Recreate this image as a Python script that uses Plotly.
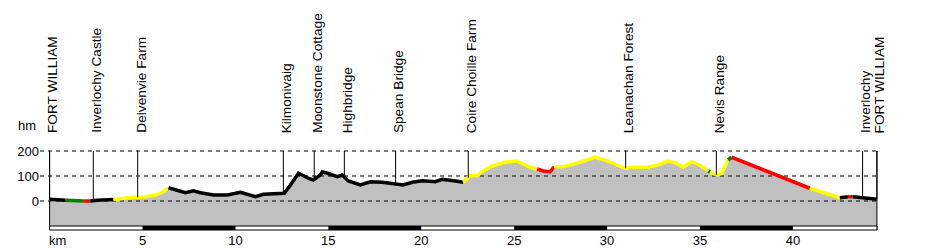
import numpy as np
import plotly.graph_objects as go

# ---------------- data ----------------
km = [0.00, 0.86, 1.83, 2.20, 2.58, 3.44, 4.25, 5.16, 5.70, 6.13,
      6.40, 6.77, 7.31, 7.74, 8.12, 8.82, 9.57, 10.27, 10.65, 11.08,
      11.51, 12.42, 12.63, 12.96, 13.39, 13.92, 14.19, 14.57, 14.68, 14.95,
      15.48, 15.75, 16.08, 16.72, 17.26, 17.90, 18.60, 19.03, 19.52, 20.05,
      20.75, 21.13, 21.83, 22.26, 22.63, 23.01, 23.33, 23.87, 24.52, 25.16,
      25.43, 25.86, 26.24, 26.56, 26.94, 27.15, 27.63, 28.39, 29.09, 29.35,
      29.89, 30.43, 30.97, 31.51, 32.20, 32.74, 33.28, 33.66, 34.09, 34.57,
      34.89, 35.27, 35.45, 35.54, 35.91, 36.18, 36.51, 36.70, 38.76, 40.91,
      42.53, 42.96, 43.23, 43.87, 44.52]
elev = [7, 3, 0, 0, 3, 6, 13, 17, 24, 37,
        53, 44, 33, 41, 33, 24, 24, 35, 28, 17,
        27, 31, 31, 64, 111, 91, 84, 104, 117, 111,
        97, 104, 80, 64, 77, 75, 67, 64, 75, 81,
        77, 87, 80, 75, 101, 101, 120, 141, 155, 160,
        151, 135, 128, 120, 117, 137, 137, 151, 168, 175,
        164, 147, 131, 135, 135, 144, 160, 153, 135, 157,
        147, 131, 120, 115, 104, 111, 164, 175, 116, 51,
        13, 17, 17, 11, 7]
# colour of the segment starting at each point (one per segment)
seg_colors = (["black", "green", "red", "black", "black"]
              + ["yellow"] * 5
              + ["black"] * 33
              + ["yellow"] * 9
              + ["red"] * 3
              + ["yellow"] * 17
              + ["green"]
              + ["yellow"] * 3
              + ["green"]
              + ["red"] * 2
              + ["yellow"]
              + ["black", "red", "black", "black"])

waypoints = ["FORT WILLIAM", "Inverlochy Castle", "Delvenvie Farm", "Kilmonivaig",
             "Moonstone Cottage", "Highbridge", "Spean Bridge", "Coire Choille Farm",
             "Leanachan Forest", "Nevis Range", "Inverlochy", "FORT WILLIAM"]
waypoint_km = [0.0, 2.35, 4.74, 12.58, 14.24, 15.86, 18.62, 22.53,
               31.00, 35.88, 43.75, 44.52]

x_ticks = [5, 10, 15, 20, 25, 30, 35, 40]
y_ticks = [0, 100, 200]
strip_edges = [0, 5, 10, 15, 20, 25, 30, 35, 40, 44.52]

colmap = {"black": "#000000", "green": "#008000", "red": "#FF0000", "yellow": "#FFFF00"}

km_a = np.array(km)
el_a = np.array(elev)
base = -100

W, H = 927, 250
L, R, T, B = 40, 47, 150, 19
pw, ph = W - L - R, H - T - B
XR = [-0.5166, 44.686]
FONT = "Liberation Sans, Arial"

fig = go.Figure()
# gray fill down to the base
fig.add_trace(go.Scatter(x=km, y=[base] * len(km), mode="lines",
                         line=dict(width=0, color="#C0C0C0"), showlegend=False, hoverinfo="skip"))
fig.add_trace(go.Scatter(x=km, y=elev, mode="lines", fill="tonexty",
                         fillcolor="#C0C0C0", line=dict(width=0, color="#C0C0C0"),
                         showlegend=False, hoverinfo="skip"))
# dashed level lines
for v in y_ticks:
    fig.add_trace(go.Scatter(x=[XR[0], 44.63], y=[v, v], mode="lines",
                             line=dict(color="black", width=1, dash="4px,4px"),
                             showlegend=False, hoverinfo="skip"))

# coloured profile line
i = 0
n = len(seg_colors)
while i < n:
    j = i
    while j + 1 < n and seg_colors[j + 1] == seg_colors[i]:
        j += 1
    fig.add_trace(go.Scatter(x=km[i:j + 2], y=elev[i:j + 2], mode="lines",
                             line=dict(color=colmap[seg_colors[i]], width=3.5),
                             showlegend=False, hoverinfo="skip"))
    i = j + 1

shapes = []
for k in waypoint_km:
    e = float(np.interp(k, km_a, el_a))
    shapes.append(dict(type="line", xref="x", yref="y", x0=k, x1=k, y0=e, y1=200,
                       line=dict(color="black", width=1)))
for k in (km[0], km[-1]):
    shapes.append(dict(type="line", xref="x", yref="y", x0=k, x1=k, y0=-116, y1=200,
                       line=dict(color="black", width=1)))
shapes.append(dict(type="rect", xref="x", yref="y", x0=km[0], x1=km[-1], y0=-116, y1=-100,
                   fillcolor="white", line=dict(color="black", width=1)))
for a, b in zip(strip_edges[1::2], strip_edges[2::2]):
    shapes.append(dict(type="rect", xref="x", yref="y", x0=a, x1=b, y0=-116, y1=-100,
                       fillcolor="black", line=dict(width=0)))

annotations = []
for name, k in zip(waypoints, waypoint_km):
    annotations.append(dict(x=k, y=1 + (T - 135) / ph, xref="x", yref="paper", text=name,
                            textangle=-90, showarrow=False, xanchor="center",
                            yanchor="bottom", xshift=3,
                            font=dict(family=FONT, size=13.7, color="black")))
annotations.append(dict(x=(26.5 - L) / pw, y=(H - B - 125) / ph, xref="paper", yref="paper",
                        xanchor="center", yanchor="middle",
                        text="hm", showarrow=False, font=dict(family=FONT, size=13, color="black")))
annotations.append(dict(x=(57 - L) / pw, y=(H - B - 240) / ph, xref="paper", yref="paper",
                        xanchor="center", yanchor="middle",
                        text="km", showarrow=False, font=dict(family=FONT, size=13, color="black")))

fig.update_layout(
    width=W, height=H,
    margin=dict(l=L, r=R, t=T, b=B, autoexpand=False),
    paper_bgcolor="white", plot_bgcolor="white",
    shapes=shapes, annotations=annotations,
    font=dict(family=FONT, size=13, color="black"),
    xaxis=dict(range=XR, tickvals=x_ticks, ticktext=[str(t) for t in x_ticks],
               showgrid=False, zeroline=False, showline=False, ticks="", automargin=False,
               ticklabelstandoff=0, fixedrange=True),
    yaxis=dict(range=[-120, 204], tickvals=y_ticks, ticktext=[str(t) for t in y_ticks],
               showgrid=False, automargin=False,
               zeroline=False, showline=False, ticks="", ticklabelstandoff=0, fixedrange=True),
)

fig.write_html("out.html", config={"displayModeBar": False})
